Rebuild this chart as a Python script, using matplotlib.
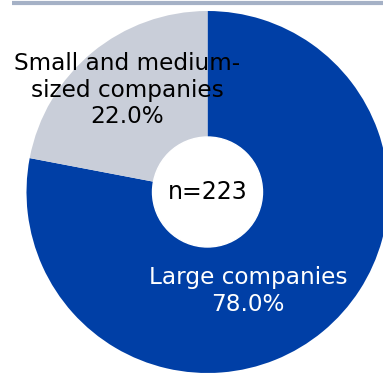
import matplotlib
matplotlib.use("Agg")
import matplotlib.pyplot as plt

labels = ["Large companies", "Small and medium-\nsized companies"]
shares = [78.0, 22.0]
colors = ["#003FA6", "#C9CED9"]
total_n = 223

fig = plt.figure(figsize=(3.83, 3.74), dpi=100)
ax = fig.add_axes([0, 0, 1, 1])

cx, cy, r = 207.5, 182, 181
ax.pie(shares, colors=colors, startangle=90, counterclock=False,
       center=(cx, cy), radius=r, frame=True,
       wedgeprops=dict(linewidth=0))
ax.set_xlim(0, 383)
ax.set_ylim(0, 374)
ax.set_aspect("equal")
ax.axis("off")

# hole in the middle
hole = plt.Circle((cx, cy), 55, color="white", zorder=3)
ax.add_patch(hole)

ax.text(cx, cy, "n=%d" % total_n, ha="center", va="center", fontsize=17, zorder=4)

ax.text(248, 83, "%s\n%.1f%%" % (labels[0], shares[0]), ha="center", va="center",
        fontsize=16.7, color="white", linespacing=1.2)
ax.text(127, 284, "%s\n%.1f%%" % (labels[1], shares[1]), ha="center", va="center",
        fontsize=16.7, color="black", linespacing=1.2)

# rule across the top
ax.plot([12, 383], [371, 371], color="#A5B1C6", linewidth=3, solid_capstyle="butt",
        clip_on=False)

fig.savefig("out.png", dpi=100)
